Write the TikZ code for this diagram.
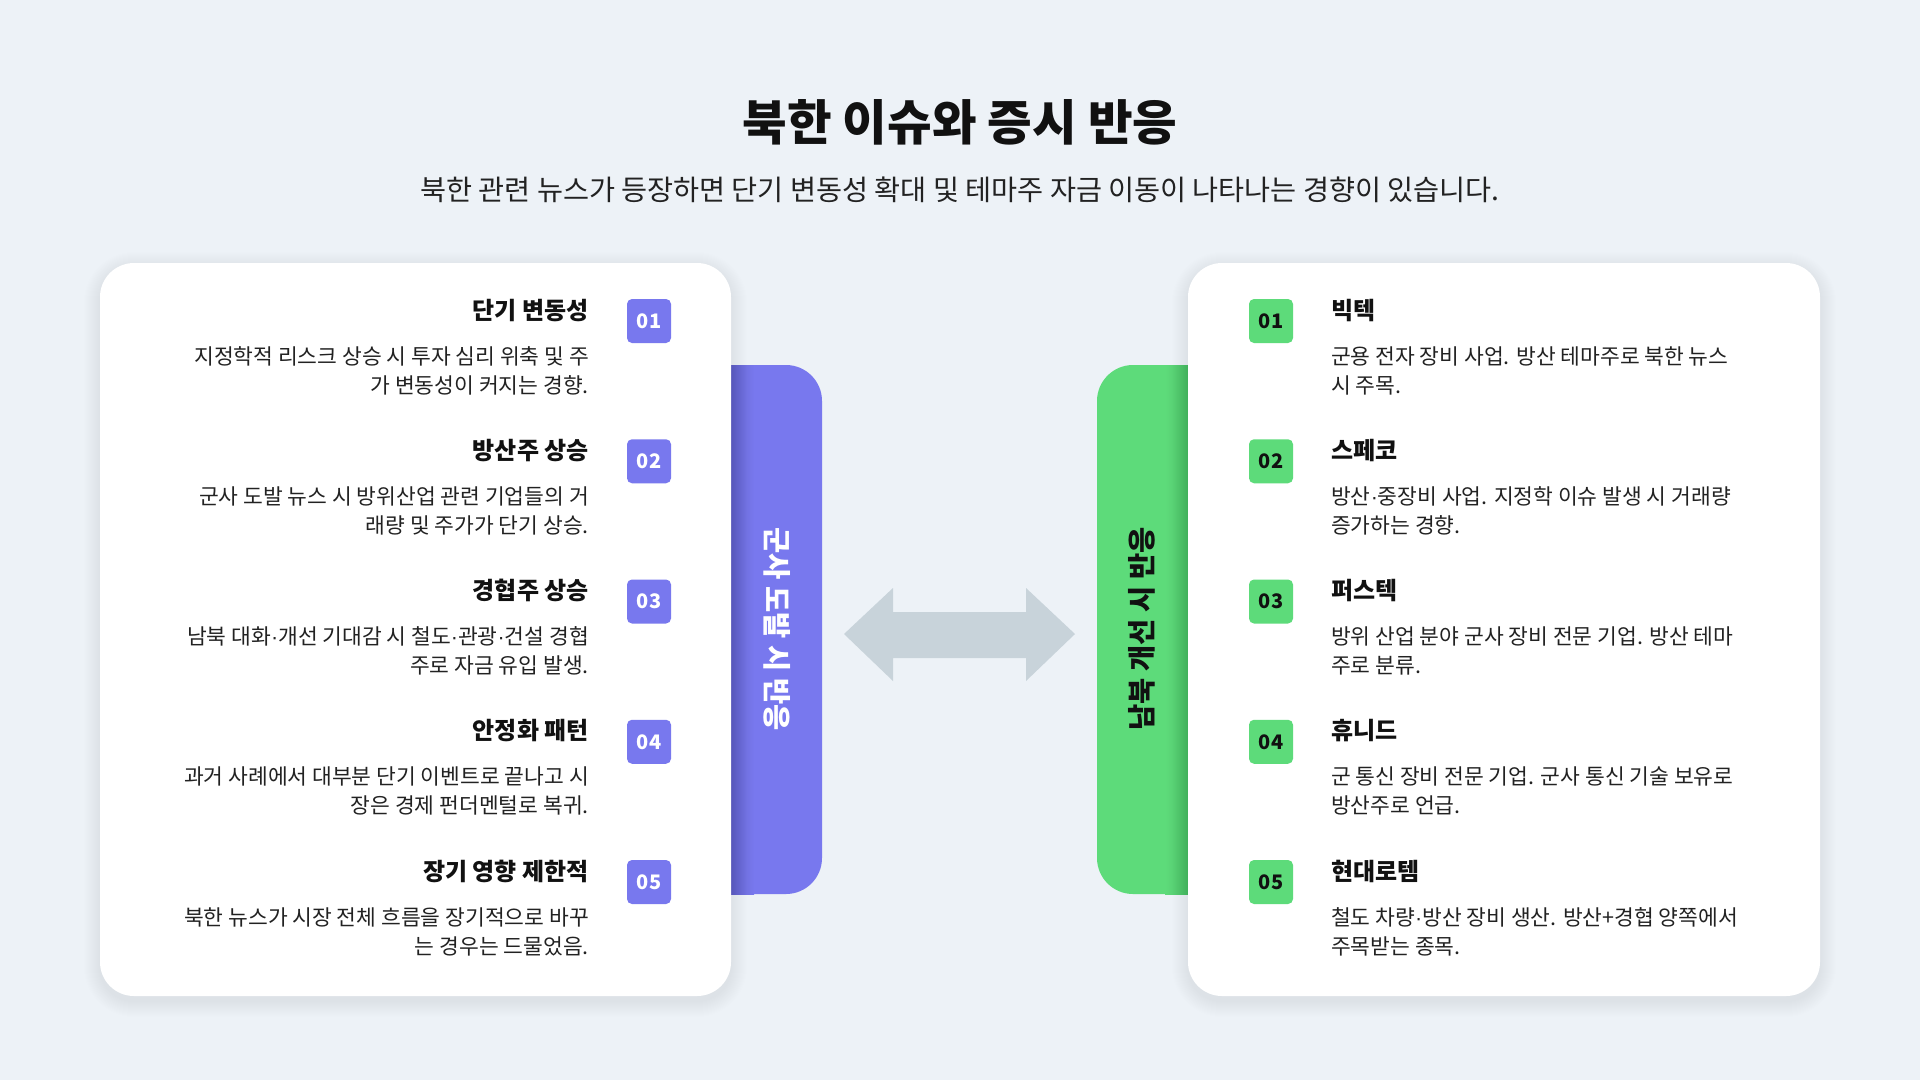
\documentclass[tikz,border=0pt]{standalone}
\usepackage{fontspec}
\setmainfont{Noto Sans CJK KR}
\newfontfamily\dotfont{Liberation Sans}
\newcommand{\md}{{\dotfont ·}}
\definecolor{bg}{HTML}{EDF2F7}
\definecolor{pur}{HTML}{7878EE}
\definecolor{grn}{HTML}{5DDB7A}
\definecolor{arr}{HTML}{C8D3DA}
\definecolor{ink}{HTML}{111111}
\definecolor{txt}{HTML}{222222}
\tikzset{
  card/.style={fill=white, rounded corners=34pt},
  badge/.style={minimum size=44pt, inner sep=0pt, rounded corners=5pt,
    font=\fontsize{20}{20}\selectfont\bfseries},
  ttl/.style={inner sep=0pt, text=ink, font=\fontsize{24}{24}\selectfont\bfseries},
  desc/.style={inner sep=0pt, text=txt, font=\fontsize{21.5}{21.5}\selectfont},
  barlbl/.style={inner sep=0pt, font=\fontsize{28.5}{28.5}\selectfont\bfseries},
  softshadow/.style={fill=black, fill opacity=0.005},
}
\begin{document}
\begin{tikzpicture}[x=1pt,y=-1pt]
\useasboundingbox[fill=bg] (0,0) rectangle (1920,1080);

% heading
\node[anchor=base, inner sep=0pt, text=ink, font=\fontsize{48.5}{48.5}\selectfont\bfseries] (title) at (960,140) {북한 이슈와 증시 반응};
\node[anchor=base, inner sep=0pt, text=txt, font=\fontsize{28.3}{28.3}\selectfont] (subtitle) at (960,200) {북한 관련 뉴스가 등장하면 단기 변동성 확대 및 테마주 자금 이동이 나타나는 경향이 있습니다.};

% side bars
\fill[pur, rounded corners=36pt] (690,365) rectangle (822,894);
\shade[left color=pur!85!black, right color=pur] (731,365) rectangle (754,894);
\fill[grn, rounded corners=36pt] (1097,365) rectangle (1230,894);
\shade[left color=grn, right color=grn!88!black] (1165,365) rectangle (1188,894);

% card shadows
\foreach \k in {1,...,16}{
  \fill[softshadow, rounded corners={34pt+\k pt}] ({100-\k},{268-\k}) rectangle ({731+\k},{1001+\k});
  \fill[softshadow, rounded corners={34pt+\k pt}] ({1188-\k},{268-\k}) rectangle ({1820+\k},{1001+\k});
}
% cards
\path[card] (100,263) rectangle (731,996);
\path[card] (1188,263) rectangle (1820,996);
\node[barlbl, text=white, rotate=-90] (leftlabel) at (777,629) {군사 도발 시 반응};
\node[barlbl, text=ink, rotate=90] (rightlabel) at (1142,629) {남북 개선 시 반응};

% double arrow
\fill[arr] (844,634) -- (893,588) -- (893,612) -- (1026,612) -- (1026,588) -- (1075,634)
  -- (1026,681) -- (1026,658) -- (893,658) -- (893,681) -- cycle;

% left items
\foreach \i/\t/\a/\b in {
  0/{단기 변동성}/{지정학적 리스크 상승 시 투자 심리 위축 및 주}/{가 변동성이 커지는 경향.},
  1/{방산주 상승}/{군사 도발 뉴스 시 방위산업 관련 기업들의 거}/{래량 및 주가가 단기 상승.},
  2/{경협주 상승}/{남북 대화\md 개선 기대감 시 철도\md 관광\md 건설 경협}/{주로 자금 유입 발생.},
  3/{안정화 패턴}/{과거 사례에서 대부분 단기 이벤트로 끝나고 시}/{장은 경제 펀더멘털로 복귀.},
  4/{장기 영향 제한적}/{북한 뉴스가 시장 전체 흐름을 장기적으로 바꾸}/{는 경우는 드물었음.}}{
  \pgfmathsetmacro\yy{321+140.25*\i}
  \pgfmathtruncatemacro\n{\i+1}
  \node[badge, fill=pur, text=white] (lb\i) at (649,\yy) {0\n};
  \node[ttl, anchor=base east] (lt\i) at (589,{\yy-2}) {\t};
  \node[desc, anchor=base east] (la\i) at (589,{\yy+43}) {\a};
  \node[desc, anchor=base east] (lc\i) at (589,{\yy+72}) {\b};
}

% right items
\foreach \i/\t/\a/\b in {
  0/{빅텍}/{군용 전자 장비 사업. 방산 테마주로 북한 뉴스}/{시 주목.},
  1/{스페코}/{방산\md 중장비 사업. 지정학 이슈 발생 시 거래량}/{증가하는 경향.},
  2/{퍼스텍}/{방위 산업 분야 군사 장비 전문 기업. 방산 테마}/{주로 분류.},
  3/{휴니드}/{군 통신 장비 전문 기업. 군사 통신 기술 보유로}/{방산주로 언급.},
  4/{현대로템}/{철도 차량\md 방산 장비 생산. 방산+경협 양쪽에서}/{주목받는 종목.}}{
  \pgfmathsetmacro\yy{321+140.25*\i}
  \pgfmathtruncatemacro\n{\i+1}
  \node[badge, fill=grn, text=ink] (rb\i) at (1271,\yy) {0\n};
  \node[ttl, anchor=base west] (rt\i) at (1331,{\yy-2}) {\t};
  \node[desc, anchor=base west] (ra\i) at (1331,{\yy+43}) {\a};
  \node[desc, anchor=base west] (rc\i) at (1331,{\yy+72}) {\b};
}
\end{tikzpicture}
\end{document}
